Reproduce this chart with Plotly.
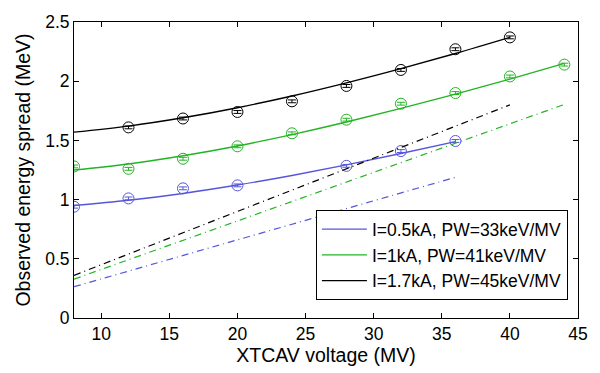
import plotly.graph_objects as go

# Measured energy spread (MeV) versus XTCAV voltage (MV)
v_low = [8, 12, 16, 20, 28, 32, 36]
e_low = [0.94, 1.01, 1.095, 1.12, 1.285, 1.41, 1.495]

v_mid = [8, 12, 16, 20, 24, 28, 32, 36, 40, 44]
e_mid = [1.28, 1.26, 1.345, 1.45, 1.56, 1.675, 1.81, 1.90, 2.04, 2.14]

v_high = [12, 16, 20, 24, 28, 32, 36, 40]
e_high = [1.61, 1.685, 1.74, 1.83, 1.96, 2.095, 2.27, 2.37]

# Measurement uncertainty (MeV)
err_low = [0.012] * len(v_low)
err_mid = [0.012] * len(v_mid)
err_high = [0.012] * len(v_high)

# Fitted curves
fit_v_low = [8, 12, 16, 20, 24, 28, 32, 36]
fit_e_low = [0.95, 0.994, 1.052, 1.123, 1.204, 1.293, 1.389, 1.49]

fit_v_mid = [8, 12, 16, 20, 24, 28, 32, 36, 40, 44]
fit_e_mid = [1.25, 1.301, 1.37, 1.453, 1.549, 1.655, 1.77, 1.891, 2.018, 2.15]

fit_v_high = [8, 12, 16, 20, 24, 28, 32, 36, 40]
fit_e_high = [1.57, 1.621, 1.691, 1.776, 1.875, 1.986, 2.106, 2.234, 2.37]

# Pure streaking contribution (straight lines)
pw_v_low = [8, 36]
pw_e_low = [0.264, 1.188]
pw_v_mid = [8, 44]
pw_e_mid = [0.328, 1.804]
pw_v_high = [8, 40]
pw_e_high = [0.36, 1.80]

names = ["I=0.5kA, PW=33keV/MV", "I=1kA, PW=41keV/MV", "I=1.7kA, PW=45keV/MV"]
colors = ["#5656dc", "#22b422", "#000000"]

x_ticks = [10, 15, 20, 25, 30, 35, 40, 45]
y_ticks = [0, 0.5, 1, 1.5, 2, 2.5]
y_labels = ["0", "0.5", "1", "1.5", "2", "2.5"]

fig = go.Figure()

groups = [
    (v_low, e_low, err_low, fit_v_low, fit_e_low, pw_v_low, pw_e_low),
    (v_mid, e_mid, err_mid, fit_v_mid, fit_e_mid, pw_v_mid, pw_e_mid),
    (v_high, e_high, err_high, fit_v_high, fit_e_high, pw_v_high, pw_e_high),
]

for (vx, ey, er, fx, fy, px, py), name, col in zip(groups, names, colors):
    fig.add_trace(go.Scatter(
        x=px, y=py, mode="lines", showlegend=False,
        line=dict(color=col, width=1.2, dash="7px,4px,1px,4px"),
    ))
    fig.add_trace(go.Scatter(
        x=fx, y=fy, mode="lines", name=name,
        line=dict(color=col, width=1.4, shape="spline"),
    ))
    fig.add_trace(go.Scatter(
        x=vx, y=ey, mode="markers", showlegend=False,
        marker=dict(symbol="circle-open", size=11, color=col, line=dict(width=1)),
        error_y=dict(type="data", array=er, color=col, thickness=1, width=4),
    ))

fig.update_layout(
    width=600, height=373,
    margin=dict(l=74, r=18, t=13, b=54),
    paper_bgcolor="white", plot_bgcolor="white",
    font=dict(family="Liberation Sans, Arial, sans-serif", size=17.5, color="black"),
    showlegend=True,
    legend=dict(
        x=0.48, y=0.06, xanchor="left", yanchor="bottom",
        bordercolor="black", borderwidth=1, bgcolor="white",
        font=dict(size=17.5), tracegroupgap=0, itemwidth=45,
    ),
    xaxis=dict(
        range=[8, 45], tickvals=x_ticks, showgrid=False, zeroline=False,
        showline=True, linecolor="black", linewidth=1, mirror="ticks",
        ticks="inside", ticklen=5, tickcolor="black",
        title=dict(text="XTCAV voltage (MV)", font=dict(size=19.5), standoff=3),
    ),
    yaxis=dict(
        range=[0, 2.5], tickvals=y_ticks, ticktext=y_labels, showgrid=False,
        zeroline=False, showline=True, linecolor="black", linewidth=1,
        mirror="ticks", ticks="inside", ticklen=5, tickcolor="black",
        title=dict(text="Observed energy spread (MeV)", font=dict(size=19.5), standoff=9),
    ),
)

fig.write_html("out.html")
